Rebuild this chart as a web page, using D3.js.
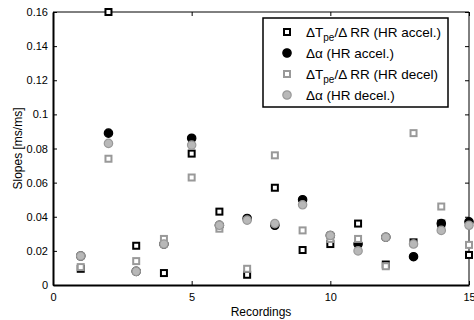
<!DOCTYPE html>
<html>
<head>
<meta charset="utf-8">
<script src="https://cdn.jsdelivr.net/npm/d3@7"></script>
<style>
  body { margin: 0; background: #fff; }
  text { font-family: "Liberation Sans", Arial, sans-serif; fill: #000; }
</style>
</head>
<body>
<svg width="474" height="320"></svg>
<script>
"use strict";

var recordings = d3.range(1, 16);
var tpeAccel = [0.0095, 0.16, 0.023, 0.007, 0.077, 0.043, 0.006, 0.057, 0.0205, 0.024, 0.036, 0.012, 0.025, 0.036, 0.0176];
var alphaAccel = [0.017, 0.089, 0.008, 0.024, 0.086, 0.035, 0.039, 0.035, 0.050, 0.029, 0.024, 0.028, 0.0166, 0.036, 0.037];
var tpeDecel = [0.0105, 0.074, 0.014, 0.027, 0.063, 0.033, 0.0095, 0.076, 0.032, 0.027, 0.027, 0.011, 0.089, 0.046, 0.0235];
var alphaDecel = [0.017, 0.083, 0.008, 0.024, 0.082, 0.035, 0.038, 0.036, 0.047, 0.029, 0.020, 0.028, 0.024, 0.032, 0.035];

var xTicks = [0, 5, 10, 15];
var yTicks = [0, 0.02, 0.04, 0.06, 0.08, 0.1, 0.12, 0.14, 0.16];

var plotL = 53, plotR = 469, plotT = 12, plotB = 285;

var svg = d3.select('svg');

var x = d3.scaleLinear().domain([0, 15]).range([plotL, plotR]);
var y = d3.scaleLinear().domain([0, 0.16]).range([plotB, plotT]);

// box
svg.append('line').attr('x1', plotL).attr('x2', plotR).attr('y1', plotT).attr('y2', plotT)
    .attr('stroke', '#000').attr('stroke-width', 1);
svg.append('line').attr('x1', plotR).attr('x2', plotR).attr('y1', plotT).attr('y2', plotB)
    .attr('stroke', '#000').attr('stroke-width', 1);

// axes, ticks inside like matlab
svg.append('g')
    .attr('transform', 'translate(0,' + plotB + ')')
    .call(d3.axisBottom(x).tickValues(xTicks).tickSizeInner(-4).tickSizeOuter(0).tickPadding(8))
    .call(function (g) {
        g.select('.domain').attr('stroke-width', 2);
        g.selectAll('text').style('font-size', '11px').attr('font-family', null);
    });

svg.append('g')
    .attr('transform', 'translate(' + plotL + ',0)')
    .call(d3.axisLeft(y).tickValues(yTicks).tickSizeInner(-4).tickSizeOuter(0).tickPadding(5)
        .tickFormat(function (d) { return String(+d.toFixed(2)); }))
    .call(function (g) {
        g.select('.domain').attr('stroke-width', 2);
        g.selectAll('text').style('font-size', '11px').attr('font-family', null);
    });

// mirrored ticks on top and right
svg.append('g')
    .attr('transform', 'translate(0,' + plotT + ')')
    .call(d3.axisTop(x).tickValues(xTicks).tickSizeInner(-4).tickSizeOuter(0).tickFormat(''))
    .call(function (g) { g.select('.domain').remove(); });

svg.append('g')
    .attr('transform', 'translate(' + plotR + ',0)')
    .call(d3.axisRight(y).tickValues(yTicks).tickSizeInner(-4).tickSizeOuter(0).tickFormat(''))
    .call(function (g) { g.select('.domain').remove(); });

svg.append('text')
    .attr('x', (plotL + plotR) / 2).attr('y', 316)
    .attr('text-anchor', 'middle')
    .style('font-size', '12px')
    .text('Recordings');

svg.append('text')
    .attr('transform', 'translate(22,' + (plotT + plotB) / 2 + ') rotate(-90)')
    .attr('text-anchor', 'middle')
    .style('font-size', '12px')
    .text('Slopes [ms/ms]');

var series = [
    { values: tpeAccel, shape: 'square', stroke: '#000', fill: '#fff' },
    { values: alphaAccel, shape: 'circle', stroke: '#000', fill: '#000' },
    { values: tpeDecel, shape: 'square', stroke: '#999', fill: '#fff' },
    { values: alphaDecel, shape: 'circle', stroke: '#999', fill: '#b8b8b8' }
];

function drawMarker(sel, s) {
    if (s.shape === 'square') {
        sel.append('rect')
            .attr('x', -3).attr('y', -3).attr('width', 6).attr('height', 6)
            .attr('fill', s.fill).attr('stroke', s.stroke).attr('stroke-width', 2);
    } else {
        sel.append('circle')
            .attr('r', 4.2)
            .attr('fill', s.fill).attr('stroke', s.stroke).attr('stroke-width', 1.2);
    }
}

series.forEach(function (s) {
    var g = svg.append('g');
    g.selectAll('g')
        .data(s.values)
        .enter()
        .append('g')
        .attr('transform', function (d, i) {
            return 'translate(' + x(recordings[i]) + ',' + y(d) + ')';
        })
        .each(function () { drawMarker(d3.select(this), s); });
});

// legend
var legend = svg.append('g');
legend.append('rect')
    .attr('x', 263).attr('y', 18).attr('width', 185).attr('height', 89)
    .attr('fill', '#fff').attr('stroke', '#000').attr('stroke-width', 1.5);

var legendLabels = [
    ['\u0394T', 'pe', '/\u0394 RR (HR accel.)'],
    ['\u0394\u03b1 (HR accel.)'],
    ['\u0394T', 'pe', '/\u0394 RR (HR decel)'],
    ['\u0394\u03b1 (HR decel.)']
];

series.forEach(function (s, i) {
    var cy = 32 + i * 21;
    var m = legend.append('g').attr('transform', 'translate(287,' + cy + ')');
    drawMarker(m, s);
    var t = legend.append('text')
        .attr('x', 306).attr('y', cy + 4.5)
        .style('font-size', '13.5px');
    var parts = legendLabels[i];
    t.append('tspan').text(parts[0]);
    if (parts.length > 1) {
        t.append('tspan').attr('dy', 4).style('font-size', '10px').text(parts[1]);
        t.append('tspan').attr('dy', -4).text(parts[2]);
    }
});
</script>
</body>
</html>
